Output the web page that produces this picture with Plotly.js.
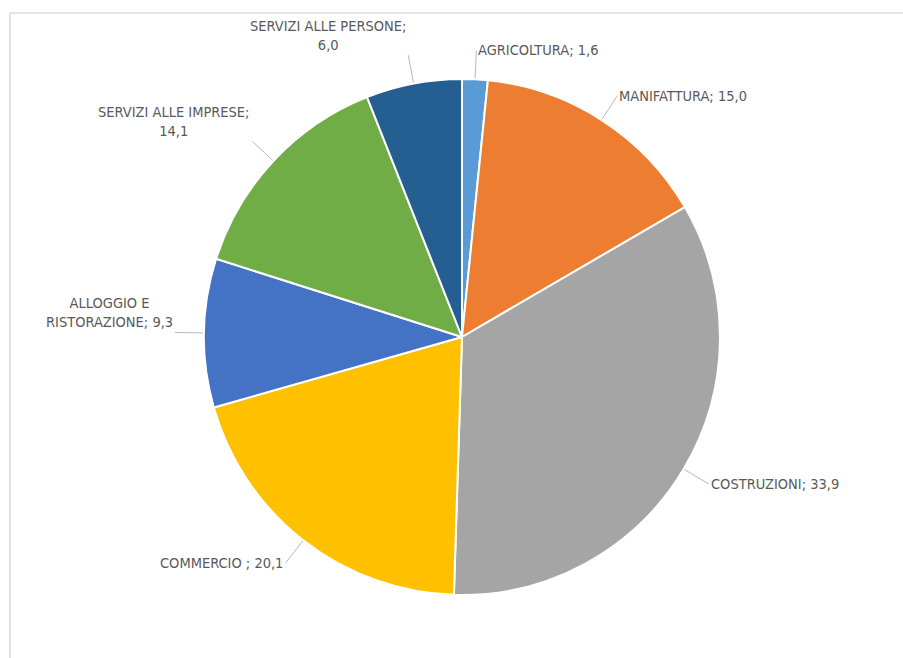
<!DOCTYPE html>
<html>
<head>
<meta charset="utf-8">
<script src="https://cdn.plot.ly/plotly-3.0.1.min.js"></script>
<style>html,body{margin:0;padding:0;background:#fff;}#chart{width:903px;height:658px;}</style>
</head>
<body>
<div id="chart"></div>
<script>
// Data
var categories = ['AGRICOLTURA', 'MANIFATTURA', 'COSTRUZIONI', 'COMMERCIO ', 'ALLOGGIO E RISTORAZIONE', 'SERVIZI ALLE IMPRESE', 'SERVIZI ALLE PERSONE'];
var labelLines = ['AGRICOLTURA;', 'MANIFATTURA;', 'COSTRUZIONI;', 'COMMERCIO ;', 'ALLOGGIO E<br>RISTORAZIONE;', 'SERVIZI ALLE IMPRESE;<br>', 'SERVIZI ALLE PERSONE;<br>'];
var values = [1.6, 15.0, 33.9, 20.1, 9.3, 14.1, 6.0];
var colors = ['#5B9BD5', '#ED7D31', '#A5A5A5', '#FFC000', '#4472C4', '#70AD47', '#255E91'];

var W = 903, H = 658;
var cx = 462, cy = 337, R = 258;
var dom = {
  x: [(cx - R) / W, (cx + R) / W],
  y: [(H - cy - R) / H, (H - cy + R) / H]
};

var total = values.reduce(function (a, b) { return a + b; }, 0);
var annotations = [];
var cum = 0;
var fontSpec = {family: '"Liberation Sans Narrow", "DejaVu Sans Condensed", "Roboto Condensed", sans-serif', size: 14.5, color: '#595959'};
for (var i = 0; i < values.length; i++) {
  var mid = (cum + values[i] / 2) / total;
  cum += values[i];
  var th = mid * 2 * Math.PI;
  var s = Math.sin(th), c = Math.cos(th);
  var tipX = cx + (R + 1) * s, tipY = cy - (R + 1) * c;
  var d = 28;
  var ax = d * s, ay = -d * c;
  var multi = labelLines[i].indexOf('<br>') >= 0;
  var xanchor = s >= 0 ? 'left' : 'right';
  var yanchor = multi ? 'bottom' : 'middle';
  var txt = labelLines[i] + (labelLines[i].slice(-4) === '<br>' ? '' : ' ') + values[i].toFixed(1).replace('.', ',');
  annotations.push({
    x: tipX / W, y: 1 - tipY / H, xref: 'paper', yref: 'paper',
    ax: ax, ay: ay, axref: 'pixel', ayref: 'pixel',
    text: txt, showarrow: true, arrowhead: 0, arrowwidth: 0.8, arrowcolor: '#A6A6A6',
    xanchor: xanchor, yanchor: yanchor, align: 'center', font: fontSpec, standoff: 0
  });
}

var trace = {
  type: 'pie',
  labels: categories,
  values: values,
  sort: false,
  direction: 'clockwise',
  rotation: 0,
  marker: {colors: colors, line: {color: '#FFFFFF', width: 2}},
  textinfo: 'none',
  hoverinfo: 'label+value',
  domain: dom,
  showlegend: false
};

var layout = {
  width: W, height: H,
  margin: {l: 0, r: 0, t: 0, b: 0},
  paper_bgcolor: '#FFFFFF',
  separators: ',.',
  showlegend: false,
  annotations: annotations,
  shapes: [{
    type: 'rect', xref: 'paper', yref: 'paper',
    x0: 10 / W, x1: 1.01, y0: -0.01, y1: 1 - 13 / H,
    line: {color: '#DADADA', width: 1.5}, fillcolor: 'rgba(0,0,0,0)', layer: 'below'
  }]
};

Plotly.newPlot('chart', [trace], layout, {displayModeBar: false, staticPlot: true});
</script>
</body>
</html>
